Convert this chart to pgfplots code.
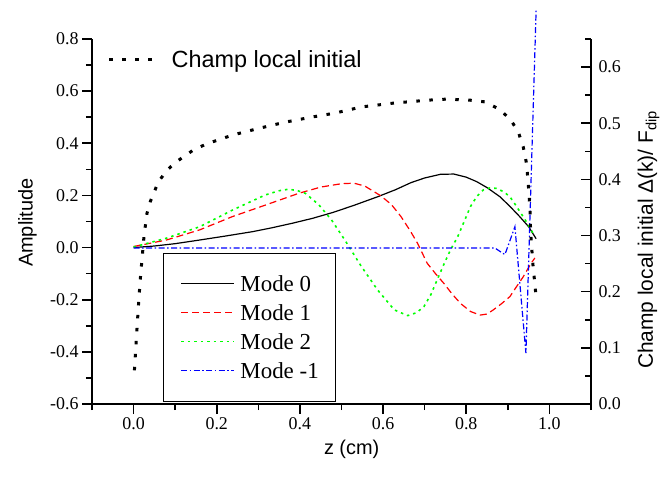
\documentclass[border=0pt]{standalone}
\usepackage{pgfplots}
\pgfplotsset{compat=1.18}
\usepackage{fontspec}
\setmainfont{Liberation Serif}
\newfontfamily\arial{Liberation Sans}
\newfontfamily\timesf{Liberation Serif}

\pgfplotstableread{
z v
0.002 0.060
0.004 0.084
0.008 0.132
0.012 0.179
0.016 0.221
0.020 0.256
0.025 0.298
0.032 0.339
0.040 0.360
0.048 0.375
0.060 0.396
0.080 0.416
0.100 0.430
0.120 0.440
0.143 0.452
0.175 0.463
0.238 0.479
0.302 0.491
0.365 0.502
0.429 0.511
0.484 0.518
0.548 0.529
0.627 0.536
0.706 0.541
0.754 0.543
0.810 0.541
0.845 0.538
0.877 0.526
0.905 0.508
0.925 0.485
0.937 0.458
0.945 0.428
0.949 0.393
0.953 0.351
0.955 0.304
0.960 0.251
0.967 0.198
}\champ

\pgfplotstableread{
z a
0.000 0.000
0.050 0.006
0.100 0.015
0.159 0.029
0.220 0.044
0.286 0.061
0.330 0.075
0.381 0.093
0.430 0.112
0.480 0.135
0.530 0.162
0.587 0.195
0.630 0.222
0.667 0.249
0.700 0.267
0.738 0.281
0.770 0.282
0.800 0.270
0.825 0.253
0.850 0.230
0.881 0.195
0.905 0.158
0.929 0.118
0.950 0.080
0.968 0.034
}\modezero

\pgfplotstableread{
z a
0.000 0.004
0.079 0.029
0.159 0.068
0.238 0.119
0.317 0.163
0.397 0.208
0.450 0.232
0.500 0.245
0.530 0.247
0.556 0.236
0.595 0.198
0.620 0.165
0.643 0.119
0.665 0.065
0.683 0.016
0.706 -0.060
0.726 -0.100
0.746 -0.137
0.766 -0.178
0.786 -0.214
0.810 -0.245
0.833 -0.259
0.850 -0.255
0.865 -0.239
0.885 -0.215
0.905 -0.188
0.920 -0.152
0.937 -0.112
0.956 -0.060
0.965 -0.040
}\modeone

\pgfplotstableread{
z a
0.000 0.002
0.079 0.036
0.159 0.080
0.238 0.144
0.317 0.202
0.350 0.218
0.373 0.224
0.395 0.218
0.413 0.208
0.445 0.165
0.476 0.106
0.508 0.029
0.548 -0.073
0.587 -0.163
0.627 -0.239
0.659 -0.261
0.680 -0.250
0.698 -0.227
0.715 -0.180
0.730 -0.124
0.746 -0.065
0.762 -0.009
0.779 0.040
0.795 0.100
0.810 0.157
0.825 0.195
0.841 0.221
0.857 0.229
0.873 0.227
0.890 0.214
0.905 0.195
0.920 0.160
0.937 0.118
0.950 0.085
0.964 0.045
}\modetwo

\pgfplotstableread{
z a
0.000 -0.002
0.869 -0.002
0.893 -0.027
0.917 0.080
0.9435 -0.405
0.968 0.910
}\modeminus

\begin{document}
\begin{tikzpicture}
\pgfplotsset{
  common/.style={
    scale only axis, width=499bp, height=365bp,
    at={(0bp,0bp)}, anchor=south west,
    xmin=-0.1, xmax=1.1,
    axis line style={line width=1.6bp, -},
    tick style={line width=1.6bp, black},
    major tick length=10bp, minor tick length=6bp,
    tick label style={font=\timesf\fontsize{18}{18}\selectfont},
    /pgf/number format/assume math mode=true,
    /pgf/number format/fixed,
    /pgf/number format/fixed zerofill,
    /pgf/number format/precision=1,
  },
}
\begin{axis}[
  common,
  axis x line*=bottom, axis y line*=left,
  ymin=-0.6, ymax=0.8,
  xtick={0,0.2,0.4,0.6,0.8,1.0},
  minor xtick={-0.1,0.1,0.3,0.5,0.7,0.9,1.1},
  ytick={-0.6,-0.4,-0.2,0,0.2,0.4,0.6,0.8},
  minor ytick={-0.5,-0.3,-0.1,0.1,0.3,0.5,0.7},
  tick align=outside,
  clip=false,
  legend style={
    at={(axis description cs:0.142,0.4145)}, anchor=north west,
    draw=black, line width=0.8bp, fill=white,
    font=\fontsize{23}{23}\selectfont,
    inner xsep=17bp, inner ysep=23bp,
    row sep=13.4bp, column sep=5.6bp,
    nodes={inner sep=0pt, text height=15.5bp, text depth=0bp},
  },
  legend cell align=left,
  legend image code/.code={\draw[#1] (0bp,0.2bp) -- (53bp,0.2bp);},
]
\addplot[draw=black, line width=1.2bp] table[x=z,y=a] {\modezero};
\addlegendentry{Mode 0}
\addplot[draw=red, line width=1.2bp, dash pattern=on 7bp off 4bp] table[x=z,y=a] {\modeone};
\addlegendentry{Mode 1}
\addplot[draw=green, line width=1.6bp, dash pattern=on 2.5bp off 4bp] table[x=z,y=a] {\modetwo};
\addlegendentry{Mode 2}
\addplot[draw=blue, line width=1.2bp, dash pattern=on 6bp off 2.5bp on 1.5bp off 2.5bp] table[x=z,y=a] {\modeminus};
\addlegendentry{Mode -1\rule[-10bp]{0pt}{10bp}}
\node[font=\arial\fontsize{20}{20}\selectfont, anchor=base] at (rel axis cs:0.5204,-0.1397) {z (cm)};
\node[font=\arial\fontsize{20}{20}\selectfont, anchor=base, rotate=90] at (rel axis cs:-0.1188,0.497) {Amplitude};
\node[font=\arial\fontsize{21}{21}\selectfont, anchor=base, rotate=90] at (rel axis cs:1.1242,0.45) {Champ local initial Δ(k)/ F\textsubscript{dip}};
\end{axis}
\begin{axis}[
  common,
  axis x line=none, axis y line*=right,
  ymin=0, ymax=0.65,
  ytick={0,0.1,0.2,0.3,0.4,0.5,0.6},
  minor ytick={0.05,0.15,0.25,0.35,0.45,0.55,0.65},
  tick align=inside,
  yticklabel style={xshift=4bp},
  legend style={
    at={(axis description cs:0.031,0.9425)}, anchor=west,
    draw=none, fill=none,
    font=\arial\fontsize{23.5}{23.5}\selectfont,
    inner sep=0pt, column sep=14bp,
    nodes={inner sep=0pt},
  },
  legend image code/.code={\draw[#1] (0bp,0bp) -- (47bp,0bp);},
]
\addplot[draw=black, line width=3bp, dash pattern=on 3.5bp off 9.5bp] table[x=z,y=v] {\champ};
\addlegendentry{Champ local initial}
\end{axis}
\path (-92bp,-75bp) rectangle (576bp,404bp);
\end{tikzpicture}
\end{document}
